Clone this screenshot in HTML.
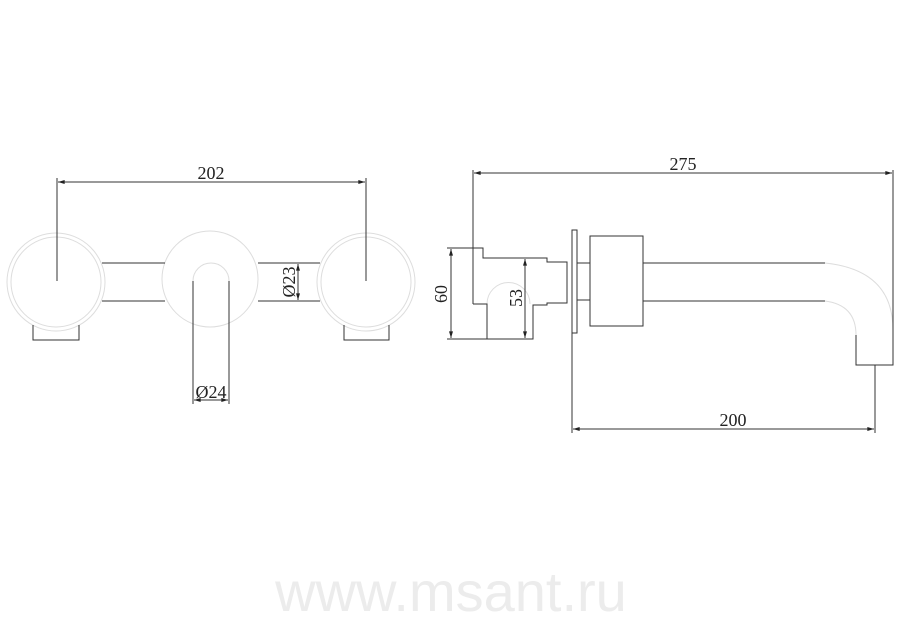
<!DOCTYPE html><html><head><style>html,body{margin:0;padding:0;background:#fff}</style></head><body>
<svg width="900" height="623" xmlns="http://www.w3.org/2000/svg" style="display:block">
<defs><marker id="a" viewBox="0 0 10 6" refX="10" refY="3" markerWidth="8" markerHeight="4" orient="auto-start-reverse"><path d="M0,0L10,3L0,6z" fill="#222"/></marker></defs>
<text x="451" y="611" font-family="Liberation Sans, sans-serif" font-size="56" fill="#ececec" text-anchor="middle">www.msant.ru</text>
<g fill="none" stroke="#ddd" stroke-width="1">
<circle cx="56" cy="282" r="49"/><circle cx="56" cy="282" r="45"/>
<circle cx="366" cy="282" r="49"/><circle cx="366" cy="282" r="45"/>
<circle cx="210" cy="279" r="48"/>
<path d="M193,281 A18,18 0 0 1 229,281"/>
<path d="M487,304 A21,21 0 0 1 530,304"/>
<path d="M825,263 Q893,270 893,330"/>
<path d="M825,301 Q856,305 856,335"/>
</g>
<g fill="none" stroke="#333" stroke-width="1">
<line x1="57" y1="178" x2="57" y2="281"/><line x1="366" y1="178" x2="366" y2="281"/>
<line x1="58" y1="182" x2="365" y2="182" marker-start="url(#a)" marker-end="url(#a)"/>
<line x1="102" y1="263" x2="165" y2="263"/><line x1="102" y1="301" x2="165" y2="301"/>
<line x1="258" y1="263" x2="320" y2="263"/><line x1="258" y1="301" x2="320" y2="301"/>
<line x1="298" y1="264" x2="298" y2="300" marker-start="url(#a)" marker-end="url(#a)"/>
<path d="M193,281V367M229,281V367"/>
<path d="M193,367V404M229,367V404"/>
<line x1="194" y1="400" x2="228" y2="400" marker-start="url(#a)" marker-end="url(#a)"/>
<path d="M33,325V340H79V325M344,325V340H389V325"/>
<line x1="473" y1="170" x2="473" y2="304"/><line x1="893" y1="170" x2="893" y2="330"/>
<line x1="474" y1="173" x2="892" y2="173" marker-start="url(#a)" marker-end="url(#a)"/>
<path d="M447,248H483V258H547V262H567V303H547V305H533V339H447"/>
<path d="M473,304H487V339"/>
<line x1="451" y1="249" x2="451" y2="338" marker-start="url(#a)" marker-end="url(#a)"/>
<line x1="525" y1="259" x2="525" y2="338" marker-start="url(#a)" marker-end="url(#a)"/>
<rect x="572" y="230" width="5" height="103"/>
<path d="M577,263H590M577,300H590"/>
<rect x="590" y="236" width="53" height="90"/>
<path d="M643,263H825M643,301H825"/>
<path d="M893,330V365H856V335"/>
<path d="M572,333V433M875,365V433"/>
<line x1="573" y1="429" x2="874" y2="429" marker-start="url(#a)" marker-end="url(#a)"/>
</g>
<g font-family="Liberation Serif, serif" font-size="18" fill="#222" text-anchor="middle">
<text x="211" y="179">202</text>
<text x="683" y="170">275</text>
<text x="733" y="426">200</text>
<text x="211" y="398">Ø24</text>
<text transform="translate(295,282) rotate(-90)">Ø23</text>
<text transform="translate(447,294) rotate(-90)">60</text>
<text transform="translate(522,298) rotate(-90)">53</text>
</g>
</svg></body></html>
